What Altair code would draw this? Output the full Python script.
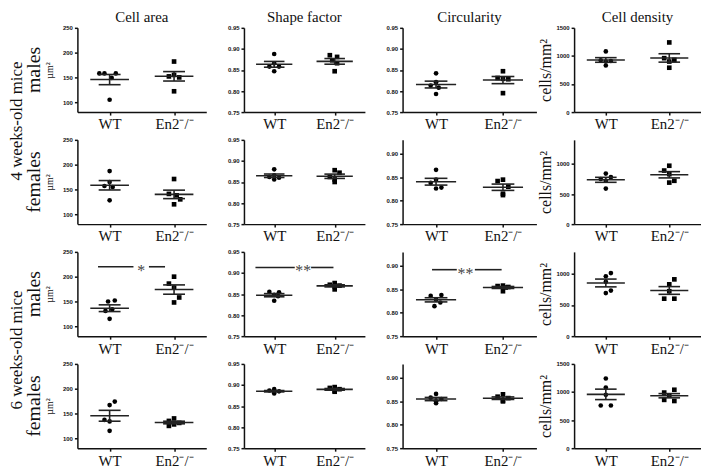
import altair as alt
import pandas as pd

COLUMN_TITLES = ["Cell area", "Shape factor", "Circularity", "Cell density"]
ROW_LABELS = ["males", "females", "males", "females"]
AGE_LABELS = ["4 weeks-old mice", "6 weeks-old mice"]
GROUP_LABELS = ["WT", "En2⁻/⁻"]
Y_TITLES = ["µm²", None, None, "cells/mm²"]

# ---- data: rows = 4w males, 4w females, 6w males, 6w females ----
area_wt = [[158, 158, 158, 149, 105], [187, 165, 157, 155, 128],
           [152, 150, 134, 131, 115], [174, 167, 137, 134, 115]]
area_en = [[182, 155, 152, 150, 122], [171, 141, 138, 130, 120],
           [200, 186, 178, 158, 148], [140, 135, 131, 128, 125]]
shape_wt = [[0.888, 0.866, 0.858, 0.858, 0.847], [0.880, 0.866, 0.862, 0.860, 0.856],
            [0.855, 0.854, 0.848, 0.845, 0.834], [0.890, 0.887, 0.885, 0.884, 0.880]]
shape_en = [[0.885, 0.881, 0.873, 0.866, 0.847], [0.878, 0.872, 0.862, 0.856, 0.850],
            [0.876, 0.872, 0.870, 0.868, 0.861], [0.895, 0.893, 0.890, 0.886, 0.884]]
circ_wt = [[0.842, 0.821, 0.813, 0.808, 0.793], [0.866, 0.845, 0.838, 0.828, 0.826],
           [0.838, 0.836, 0.828, 0.822, 0.814], [0.866, 0.858, 0.855, 0.850, 0.846]]
circ_en = [[0.847, 0.831, 0.829, 0.828, 0.795], [0.845, 0.842, 0.830, 0.815, 0.812],
           [0.858, 0.857, 0.855, 0.854, 0.846], [0.865, 0.860, 0.857, 0.852, 0.850]]
dens_wt = [[1080, 920, 910, 900, 830], [840, 780, 750, 720, 590],
           [1010, 960, 870, 730, 690], [1240, 1080, 950, 760, 760]]
dens_en = [[1240, 960, 930, 900, 790], [970, 890, 830, 720, 690],
           [910, 830, 720, 600, 600], [1040, 990, 940, 860, 840]]

# horizontal swarm slot of each point (column scatter)
area_wt_slot = [[-2, -1, 1.2, 0.4, 0], [0, 0, -1, 0.6, 0], [1, -0.3, 0.5, -0.8, 0], [1, 0, -1, 0, 0]]
area_en_slot = [[0, 0, -1, 1, 0], [0, -1, 0.5, 1.2, 0], [0, -1, 0, 1, 0], [0, -1, 1, 0, -1]]
shape_wt_slot = [[0, 0, -1, 1, 0], [0, 0, -1, 1, 0], [-1, 1, 0, 0.8, 0], [0, -1, 1, 0, 0]]
shape_en_slot = [[-1, 0.5, -0.5, 0.5, 0], [0, 1, -1, 0, 0], [0, -1, 1, 0, 0], [0, -1, 1, 0, 0]]
circ_wt_slot = [[0, 0, -1, 0.5, 0], [0, 0, -1, 1, 0], [1, -1, 0, 0.8, -0.3], [0, -1, 1, 0, 0]]
circ_en_slot = [[0, -1, 0, 1, 0], [0, -1, 1, 0, 0], [0, -1, 1, 0.5, 0], [0, -1, 1, 0, 0]]
dens_wt_slot = [[0, -1, 1, 0, 0], [0, 1, -1, 0, 0], [1, 0, 0, 1, 0], [0, 0, 0, -1, 1]]
dens_en_slot = [[0, -1, 1, 0, 0], [0, -1, 0, 1, 0], [1, 0, 0, -1, 1], [1, -1, 0, -1, 1]]

VALUES = [(area_wt, area_en), (shape_wt, shape_en), (circ_wt, circ_en), (dens_wt, dens_en)]
SLOTS = [(area_wt_slot, area_en_slot), (shape_wt_slot, shape_en_slot),
         (circ_wt_slot, circ_en_slot), (dens_wt_slot, dens_en_slot)]

Y_DOMAINS = [
    [[80, 250]] * 4,
    [[0.75, 0.95]] * 4,
    [[0.75, 0.95], [0.75, 0.93], [0.75, 0.93], [0.75, 0.93]],
    [[0, 1500], [0, 1400], [0, 1350], [0, 1500]],
]
Y_TICKS = [
    [[100, 150, 200, 250]] * 4,
    [[0.75, 0.80, 0.85, 0.90, 0.95]] * 4,
    [[0.75, 0.80, 0.85, 0.90, 0.95], [0.75, 0.80, 0.85, 0.90],
     [0.75, 0.80, 0.85, 0.90], [0.75, 0.80, 0.85, 0.90]],
    [[0, 500, 1000, 1500], [0, 500, 1000], [0, 500, 1000], [0, 500, 1000, 1500]],
]
Y_FORMATS = ["d", ".2f", ".2f", "d"]

# significance annotations (row, col): label, y, start, gap_lo, gap_hi, end, label_x
SIG = {
    (2, 0): ("*", 220, 0.82, 1.37, 1.61, 1.86, 1.49),
    (2, 1): ("**", 0.913, 0.69, 1.34, 1.61, 1.98, 1.48),
    (2, 2): ("**", 0.892, 0.94, 1.31, 1.58, 1.98, 1.44),
}

WIDTHS = [130, 122, 135, 128]
H = 85
ROW_GAP = 28
COL_GAP = 38
INK = "#111111"
SERIF = "Liberation Serif"
SANS = "Liberation Sans"


def make_panel(r, c):
    wt, en = VALUES[c][0][r], VALUES[c][1][r]
    swt, sen = SLOTS[c][0][r], SLOTS[c][1][r]
    df = pd.DataFrame({
        "group": ["WT"] * len(wt) + ["En2"] * len(en),
        "value": wt + en,
        "slot": swt + sen,
    })
    xscale = alt.Scale(domain=[0.5, 2.5], nice=False, zero=False)
    yscale = alt.Scale(domain=Y_DOMAINS[c][r], nice=False, zero=False)
    xaxis = alt.Axis(
        values=[1, 2],
        labelExpr=f"datum.value == 1 ? '{GROUP_LABELS[0]}' : '{GROUP_LABELS[1]}'",
        title=None, grid=False, tickSize=3, tickWidth=1.5, tickColor=INK,
        domainColor=INK, domainWidth=1.5, labelFont=SERIF, labelFontSize=15,
        labelColor=INK, labelPadding=2, labelFlush=False, labelOverlap=False,
    )
    yargs = dict(
        values=Y_TICKS[c][r], format=Y_FORMATS[c], grid=False, tickSize=3,
        tickWidth=1.5, tickColor=INK, domainColor=INK, domainWidth=1.5,
        labelFont=SANS, labelFontSize=6, labelFontWeight="bold",
        labelColor=INK, labelPadding=2, labelFlush=False, labelOverlap=False,
    )
    if Y_TITLES[c]:
        yargs.update(
            title=Y_TITLES[c], titleFont=SERIF, titleFontWeight="normal",
            titleColor=INK, titleFontSize=10 if c == 0 else 16,
            titlePadding=8 if c == 0 else 2,
        )
    else:
        yargs.update(title=None)
    yaxis = alt.Axis(**yargs)

    base = alt.Chart(df).transform_calculate(gx="datum.group == 'WT' ? 1 : 2")
    pts = base.transform_calculate(px="datum.gx + datum.slot * 0.08").mark_point(
        filled=True, size=22, color="black", opacity=1
    ).encode(
        x=alt.X("px:Q", scale=xscale, axis=xaxis),
        y=alt.Y("value:Q", scale=yscale, axis=yaxis),
        shape=alt.Shape("group:N", scale=alt.Scale(domain=["WT", "En2"], range=["circle", "square"]), legend=None),
    )
    stats = base.transform_aggregate(
        m="mean(value)", s="stderr(value)", groupby=["group", "gx"]
    ).transform_calculate(
        lo="datum.m - datum.s", hi="datum.m + datum.s",
        ml="datum.gx - 0.3", mr="datum.gx + 0.3",
        cl="datum.gx - 0.17", cr="datum.gx + 0.17",
    )
    rule_style = dict(color="#222222", strokeWidth=1.6)
    mean = stats.mark_rule(**rule_style).encode(
        x=alt.X("ml:Q", scale=xscale, axis=xaxis), x2="mr:Q",
        y=alt.Y("m:Q", scale=yscale, axis=yaxis))
    vbar = stats.mark_rule(**rule_style).encode(
        x=alt.X("gx:Q", scale=xscale, axis=xaxis),
        y=alt.Y("lo:Q", scale=yscale, axis=yaxis), y2="hi:Q")
    cap_lo = stats.mark_rule(**rule_style).encode(
        x=alt.X("cl:Q", scale=xscale, axis=xaxis), x2="cr:Q",
        y=alt.Y("lo:Q", scale=yscale, axis=yaxis))
    cap_hi = stats.mark_rule(**rule_style).encode(
        x=alt.X("cl:Q", scale=xscale, axis=xaxis), x2="cr:Q",
        y=alt.Y("hi:Q", scale=yscale, axis=yaxis))
    layers = [pts, mean, vbar, cap_lo, cap_hi]

    if (r, c) in SIG:
        lab, yv, s0, g0, g1, s1, lx = SIG[(r, c)]
        seg = pd.DataFrame({"a": [s0, g1], "b": [g0, s1], "y": [yv, yv]})
        layers.append(alt.Chart(seg).mark_rule(color="#222222", strokeWidth=1.6).encode(
            x=alt.X("a:Q", scale=xscale, axis=xaxis), x2="b:Q",
            y=alt.Y("y:Q", scale=yscale, axis=yaxis)))
        star = pd.DataFrame({"t": [lab], "x": [lx], "y": [yv]})
        layers.append(alt.Chart(star).mark_text(
            font=SERIF, fontSize=16, color="#444444", baseline="middle", dy=4
        ).encode(x=alt.X("x:Q", scale=xscale, axis=xaxis),
                 y=alt.Y("y:Q", scale=yscale, axis=yaxis), text="t:N"))

    if c == 0:
        lab = pd.DataFrame({"t": [ROW_LABELS[r]]})
        layers.append(alt.Chart(lab).mark_text(
            font=SERIF, fontSize=20, color=INK, angle=270, baseline="middle", align="center"
        ).encode(text="t:N", x=alt.value(-44), y=alt.value(H / 2)))
        if r in (0, 2):
            age = pd.DataFrame({"t": [AGE_LABELS[r // 2]]})
            ay = H + ROW_GAP / 2 - (5 if r == 0 else 0)
            layers.append(alt.Chart(age).mark_text(
                font=SERIF, fontSize=17, color=INK, angle=270, baseline="middle", align="center"
            ).encode(text="t:N", x=alt.value(-61), y=alt.value(ay)))

    props = dict(width=WIDTHS[c], height=H)
    if r == 0:
        props["title"] = alt.TitleParams(
            COLUMN_TITLES[c], font=SERIF, fontSize=15, fontWeight="normal",
            color=INK, offset=0, anchor="middle")
    return alt.layer(*layers).properties(**props)


panels = [make_panel(r, c) for r in range(4) for c in range(4)]

chart = alt.concat(
    *panels, columns=4, spacing={"row": ROW_GAP, "column": COL_GAP},
    bounds="flush", align="each",
).properties(padding=0).configure(
    font=SERIF
).configure_view(stroke=None).configure_axis(
    labelFont=SERIF, titleFont=SERIF
).configure_title(font=SERIF, fontWeight="normal")

chart.save("out.html", embed_options={"renderer": "svg", "actions": False})
